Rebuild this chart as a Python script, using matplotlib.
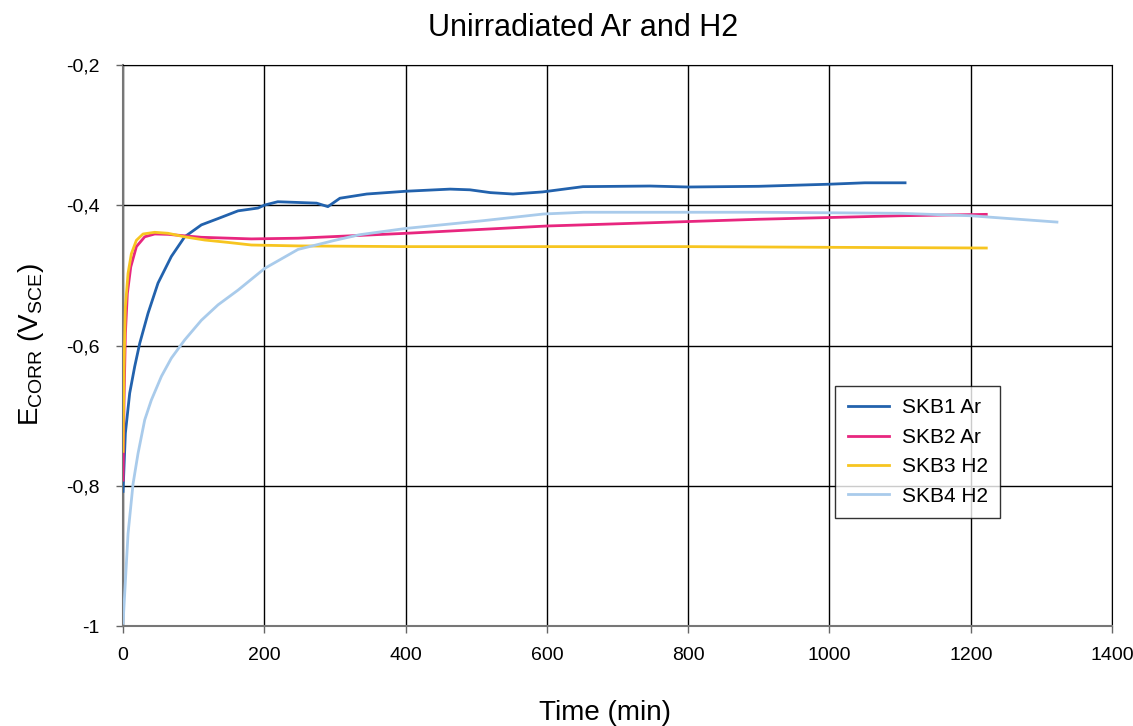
import matplotlib
matplotlib.use("Agg")
import matplotlib.pyplot as plt
from matplotlib.ticker import FuncFormatter

plt.rcParams["font.family"] = ["Liberation Sans", "DejaVu Sans"]

# Corrosion potential readings (time in min, potential in V vs SCE)
skb1_t = [0, 3.3, 9.4, 16.5, 23.6, 35.4, 49.5, 68.4, 87.3, 110.9, 134.5, 162.8,
          191, 200.6, 219, 274, 290, 307, 345, 401, 463, 491, 520, 552, 594,
          651, 746, 800, 900, 1000, 1050, 1107]
skb1_v = [-0.808, -0.725, -0.668, -0.630, -0.597, -0.554, -0.511, -0.473,
          -0.445, -0.428, -0.419, -0.408, -0.404, -0.3997, -0.395, -0.397,
          -0.402, -0.390, -0.384, -0.380, -0.377, -0.378, -0.382, -0.384,
          -0.381, -0.3735, -0.3726, -0.374, -0.373, -0.370, -0.368, -0.368]

skb2_t = [0, 1.4, 3.3, 6.1, 10.9, 18.9, 30.7, 44.8, 63.7, 110.9, 181.6, 247.7,
          401, 600, 746, 900, 1100, 1222]
skb2_v = [-0.792, -0.678, -0.583, -0.526, -0.488, -0.459, -0.445, -0.441,
          -0.4415, -0.4457, -0.448, -0.447, -0.440, -0.4296, -0.425, -0.420,
          -0.415, -0.413]

skb3_t = [0, 1.4, 3.3, 7.1, 11.8, 18.9, 28.3, 44.8, 63.7, 87, 115.6, 148.6,
          181.6, 247.7, 400, 600, 800, 1000, 1222]
skb3_v = [-0.751, -0.630, -0.545, -0.497, -0.469, -0.450, -0.441, -0.4386,
          -0.440, -0.445, -0.4496, -0.453, -0.4567, -0.458, -0.459, -0.459,
          -0.459, -0.460, -0.461]

skb4_t = [0, 7.1, 14.2, 21.2, 30.7, 40, 54.3, 68.4, 87.3, 110.9, 134.5, 162.8,
          200.6, 247.7, 300, 335, 401, 510, 595, 652, 746, 900, 1100, 1200, 1322]
skb4_v = [-0.996, -0.868, -0.797, -0.754, -0.706, -0.678, -0.644, -0.618,
          -0.592, -0.564, -0.542, -0.521, -0.490, -0.463, -0.450, -0.442,
          -0.433, -0.422, -0.4125, -0.410, -0.410, -0.410, -0.4115, -0.415,
          -0.424]

series = [
    ("SKB1 Ar", skb1_t, skb1_v, "#2262ad"),
    ("SKB2 Ar", skb2_t, skb2_v, "#e8267f"),
    ("SKB3 H2", skb3_t, skb3_v, "#f7c520"),
    ("SKB4 H2", skb4_t, skb4_v, "#a9cbeb"),
]

fig = plt.figure(figsize=(11.33, 7.26), dpi=100)
ax = fig.add_axes([0.1086, 0.1377, 0.8729, 0.7728])

for name, t, v, c in series:
    ax.plot(t, v, color=c, lw=2, label=name, zorder=3)

ax.set_xlim(0, 1400)
ax.set_ylim(-1, -0.2)
ax.set_xticks(range(0, 1401, 200))
ax.set_yticks([-1, -0.8, -0.6, -0.4, -0.2])
ax.yaxis.set_major_formatter(FuncFormatter(
    lambda v, p: ("%g" % round(v, 1)).replace(".", ",")))
ax.grid(True, color="black", lw=1)
ax.tick_params(labelsize=14, length=5, width=1, color="#666666")
ax.tick_params(axis="x", pad=10)
ax.tick_params(axis="y", pad=12)
for side in ("left", "bottom"):
    ax.spines[side].set_color("#777777")
    ax.spines[side].set_linewidth(1.5)
for side in ("right", "top"):
    ax.spines[side].set_color("black")

fig.text(0.515, 0.962, "Unirradiated Ar and H2", ha="center", va="center",
         fontsize=22)
fig.text(0.534, 0.018, "Time (min)", ha="center", va="center", fontsize=20)
fig.text(0.027, 0.525, r"E$_\mathregular{CORR}$ (V$_\mathregular{SCE}$)",
         ha="center", va="center", rotation=90, fontsize=20)

leg = ax.legend(loc="upper left", bbox_to_anchor=(0.72, 0.428), fontsize=15,
                frameon=True, fancybox=False, edgecolor="black",
                handlelength=2.0, handletextpad=0.6, labelspacing=0.5,
                borderpad=0.6, borderaxespad=0)
leg.get_frame().set_linewidth(1)

fig.savefig("out.png", dpi=100)
